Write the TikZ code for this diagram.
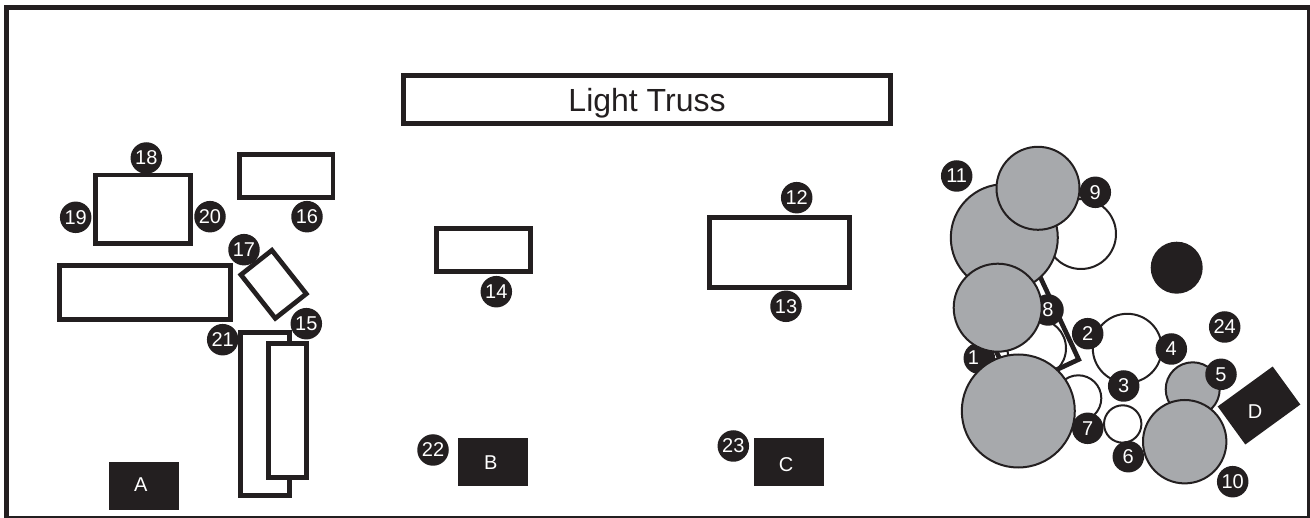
\documentclass[tikz,border=0pt]{standalone}
\usepackage{fontspec}
\setmainfont{Liberation Sans}
\definecolor{ink}{HTML}{231F20}
\definecolor{seat}{HTML}{A7A9AC}
\tikzset{
 x=1pt,y=-1pt,
 zone/.style={draw=ink,line width=4.7pt,fill=white,rectangle,inner sep=0pt,miter limit=10},
 pool/.style={draw=ink,line width=2pt,fill=white,circle,inner sep=0pt},
 seatc/.style={draw=ink,line width=2pt,fill=seat,circle,inner sep=0pt},
 badge/.style={fill=ink,circle,inner sep=0pt,minimum size=31.5pt,text=white,font=\fontsize{20}{20}\selectfont},
 block/.style={fill=ink,rectangle,inner sep=0pt,minimum width=70pt,minimum height=48pt},
 blocktext/.style={text=white,inner sep=0pt,font=\fontsize{20}{20}\selectfont},
}
\newcommand{\zonebox}[5]{\node[zone,minimum width=#4pt,minimum height=#5pt] (#1) at (#2,#3) {};}
\newcommand{\bdg}[3]{\node[badge] (b#1) at (#2,#3) {#1};}
\begin{document}
\begin{tikzpicture}
\useasboundingbox (0,0) rectangle (1310,518);
\fill[white] (0,0) rectangle (1310,518);
\node[draw=ink,line width=5.2pt,rectangle,inner sep=0pt,minimum width=1303pt,minimum height=511pt] (frame) at (658,263) {};
\node[zone,minimum width=487pt,minimum height=48pt,font=\fontsize{32}{32}\selectfont,text=ink,text height=35pt,text depth=10pt] (truss) at (647,99.5) {Light Truss};
% left group
\zonebox{zoneA}{143}{209.2}{95.4}{68.3}
\zonebox{zoneB}{286.2}{176.2}{93.7}{43.1}
\zonebox{zoneC}{144.8}{292.7}{171}{54.1}
\node[zone,minimum width=55.5pt,minimum height=39.5pt,rotate=-51.7] (zoneD) at (273.6,284.3) {};
\zonebox{zoneE}{265}{414}{48.8}{163.4}
\zonebox{zoneF}{287.6}{410.6}{38.1}{134.1}
\bdg{18}{146.3}{158}
\bdg{19}{75.7}{217.3}
\bdg{20}{210}{216.7}
\bdg{16}{307}{216.7}
\bdg{17}{244}{249.7}
\bdg{21}{222.7}{339.7}
\bdg{15}{306.3}{323.7}
\node[block] (Abox) at (144,486) {};
\node[blocktext] (A) at (140.7,485) {A};
% middle
\zonebox{zoneG}{483.7}{250}{94}{43.3}
\zonebox{zoneH}{779.5}{252.5}{139.7}{70.3}
\bdg{14}{496.3}{291.7}
\bdg{12}{796.7}{197.7}
\bdg{13}{786}{306.3}
\bdg{22}{433}{450}
\bdg{23}{733.3}{446}
\node[block] (Bbox) at (493,462) {};
\node[blocktext] (B) at (490.7,462.3) {B};
\node[block] (Cbox) at (789,462) {};
\node[blocktext] (C) at (786,464.3) {C};
% right group
\node[zone,minimum width=105.3pt,minimum height=71.3pt,rotate=-65] (zoneJ) at (1024.1,326.8) {};
\node[pool,fill=none,minimum size=70pt] (p9) at (1081,234) {};
\node[pool,fill=none,minimum size=58.6pt] (p8) at (1036.7,348.3) {};
\node[pool,minimum size=46pt] (p7) at (1078.3,398.3) {};
\node[pool,minimum size=37.4pt] (p6) at (1122.7,424) {};
\node[pool,minimum size=69pt] (p2) at (1127.3,348.3) {};
\node[badge] (b1) at (979.3,358.3) {};
\node[blocktext] (t1) at (973.5,358) {1};
\bdg{8}{1048}{310}
\node[seatc,minimum size=107pt] (s11) at (1004.3,237.7) {};
\node[seatc,minimum size=83pt] (s9) at (1038,188.3) {};
\node[seatc,minimum size=88pt] (s8) at (997.7,307.7) {};
\node[seatc,minimum size=113pt] (s1) at (1018.3,411) {};
\node[seatc,minimum size=54pt] (s5) at (1192.7,389.3) {};
\node[seatc,minimum size=83.4pt] (s10) at (1184.7,441.7) {};
\node[fill=ink,circle,inner sep=0pt,minimum size=52pt] (hole) at (1176.7,267.7) {};
\node[fill=ink,rectangle,inner sep=0pt,minimum width=68pt,minimum height=47pt,rotate=36] (Dbox) at (1259,405.5) {};
\node[blocktext] (D) at (1255,411.7) {D};
\bdg{11}{956.7}{176}
\bdg{9}{1095.3}{192.3}
\bdg{2}{1087.7}{333.7}
\bdg{4}{1171.3}{349}
\bdg{3}{1123.7}{386}
\bdg{24}{1224.7}{327}
\bdg{5}{1221}{374.3}
\bdg{7}{1087.7}{428.3}
\bdg{6}{1128.3}{456.7}
\bdg{10}{1232.7}{481.7}
\end{tikzpicture}
\end{document}
